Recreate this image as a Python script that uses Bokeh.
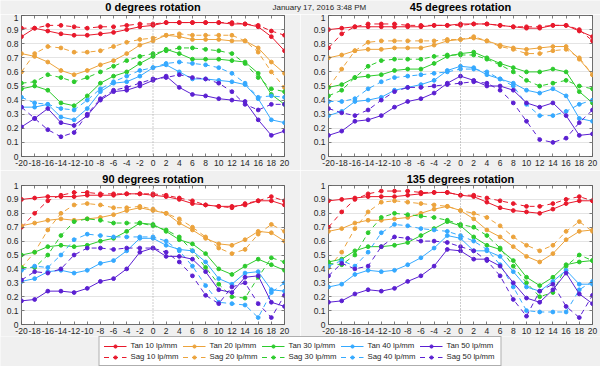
from bokeh.plotting import figure
from bokeh.models import (Range1d, FixedTicker, Span, Legend, LegendItem, Label, LinearAxis,
                          CustomLabelingPolicy)
from bokeh.layouts import column, row
from bokeh.embed import file_html
from bokeh.resources import INLINE

field = [-20, -18, -16, -14, -12, -10, -8, -6, -4, -2, 0, 2, 4, 6, 8, 10, 12, 14, 16, 18, 20]
x_ticks = field
x_tick_labels = ["-20", "-18", "-16", "-14", "-12", "-10", "-8", "-6", "-4", "-2", "0",
                 "2", "4", "6", "8", "10", "12", "14", "16", "18", "20"]
y_ticks = [0, 0.1, 0.2, 0.3, 0.4, 0.5, 0.6, 0.7, 0.8, 0.9, 1.0]
y_tick_labels = ["0", "0.1", "0.2", "0.3", "0.4", "0.5", "0.6", "0.7", "0.8", "0.9", "1"]
freqs = ["10", "20", "30", "40", "50"]
colors = ["#e8192c", "#eca33c", "#2dcb2d", "#35a9ff", "#5b20d2"]
date_text = "January 17, 2016  3:48 PM"

# ---- 0 degrees rotation ----
tan10_r0 = [0.85, 0.91, 0.89, 0.87, 0.86, 0.86, 0.87, 0.88, 0.90, 0.92, 0.93, 0.95, 0.95, 0.95, 0.95, 0.95, 0.94, 0.94, 0.92, 0.85, 0.75]
sag10_r0 = [0.91, 0.91, 0.93, 0.93, 0.92, 0.91, 0.92, 0.92, 0.93, 0.94, 0.94, 0.95, 0.95, 0.95, 0.95, 0.95, 0.95, 0.94, 0.93, 0.89, 0.86]
tan20_r0 = [0.73, 0.71, 0.67, 0.61, 0.58, 0.61, 0.65, 0.68, 0.73, 0.79, 0.82, 0.86, 0.85, 0.83, 0.83, 0.83, 0.82, 0.82, 0.77, 0.67, 0.59]
sag20_r0 = [0.60, 0.73, 0.78, 0.77, 0.74, 0.74, 0.75, 0.78, 0.81, 0.83, 0.84, 0.86, 0.87, 0.86, 0.86, 0.86, 0.86, 0.82, 0.74, 0.60, 0.49]
tan30_r0 = [0.48, 0.50, 0.47, 0.38, 0.36, 0.43, 0.52, 0.57, 0.60, 0.66, 0.71, 0.76, 0.73, 0.69, 0.69, 0.69, 0.68, 0.67, 0.59, 0.44, 0.37]
sag30_r0 = [0.52, 0.53, 0.58, 0.56, 0.53, 0.56, 0.60, 0.64, 0.68, 0.71, 0.73, 0.75, 0.77, 0.77, 0.76, 0.75, 0.73, 0.66, 0.56, 0.48, 0.46]
tan40_r0 = [0.35, 0.35, 0.37, 0.28, 0.26, 0.34, 0.46, 0.52, 0.53, 0.57, 0.63, 0.65, 0.60, 0.55, 0.55, 0.54, 0.53, 0.51, 0.41, 0.26, 0.24]
sag40_r0 = [0.42, 0.38, 0.37, 0.34, 0.33, 0.40, 0.48, 0.53, 0.57, 0.61, 0.63, 0.66, 0.67, 0.66, 0.65, 0.63, 0.59, 0.52, 0.42, 0.43, 0.42]
tan50_r0 = [0.21, 0.27, 0.34, 0.24, 0.22, 0.29, 0.40, 0.46, 0.47, 0.50, 0.54, 0.57, 0.49, 0.44, 0.43, 0.41, 0.40, 0.39, 0.26, 0.15, 0.18]
sag50_r0 = [0.35, 0.27, 0.19, 0.14, 0.17, 0.30, 0.41, 0.47, 0.49, 0.52, 0.55, 0.56, 0.58, 0.56, 0.55, 0.52, 0.46, 0.37, 0.33, 0.37, 0.37]

# ---- 45 degrees rotation ----
tan10_r45 = [0.90, 0.91, 0.92, 0.92, 0.92, 0.92, 0.92, 0.92, 0.93, 0.93, 0.94, 0.94, 0.94, 0.93, 0.92, 0.91, 0.91, 0.93, 0.93, 0.89, 0.85]
sag10_r45 = [0.77, 0.87, 0.92, 0.94, 0.94, 0.94, 0.93, 0.93, 0.93, 0.93, 0.93, 0.94, 0.94, 0.93, 0.92, 0.92, 0.92, 0.93, 0.93, 0.90, 0.82]
tan20_r45 = [0.70, 0.72, 0.75, 0.76, 0.76, 0.77, 0.77, 0.77, 0.79, 0.82, 0.83, 0.84, 0.82, 0.79, 0.77, 0.76, 0.77, 0.78, 0.78, 0.69, 0.58]
sag20_r45 = [0.49, 0.62, 0.75, 0.81, 0.82, 0.82, 0.82, 0.82, 0.82, 0.83, 0.83, 0.85, 0.82, 0.78, 0.76, 0.73, 0.73, 0.75, 0.76, 0.70, 0.58]
tan30_r45 = [0.49, 0.51, 0.56, 0.57, 0.58, 0.61, 0.62, 0.62, 0.66, 0.71, 0.73, 0.74, 0.70, 0.66, 0.63, 0.60, 0.60, 0.62, 0.60, 0.46, 0.38]
sag30_r45 = [0.43, 0.47, 0.56, 0.64, 0.68, 0.69, 0.69, 0.69, 0.71, 0.72, 0.72, 0.72, 0.69, 0.65, 0.60, 0.54, 0.50, 0.52, 0.54, 0.50, 0.48]
tan40_r45 = [0.29, 0.32, 0.39, 0.40, 0.42, 0.47, 0.49, 0.51, 0.54, 0.61, 0.64, 0.63, 0.58, 0.55, 0.52, 0.47, 0.45, 0.48, 0.43, 0.27, 0.25]
sag40_r45 = [0.39, 0.39, 0.41, 0.48, 0.53, 0.56, 0.57, 0.58, 0.59, 0.60, 0.62, 0.62, 0.60, 0.55, 0.50, 0.37, 0.29, 0.29, 0.32, 0.37, 0.40]
tan50_r45 = [0.15, 0.18, 0.25, 0.26, 0.29, 0.35, 0.39, 0.41, 0.45, 0.52, 0.57, 0.54, 0.50, 0.50, 0.47, 0.38, 0.35, 0.38, 0.29, 0.15, 0.16]
sag50_r45 = [0.34, 0.31, 0.29, 0.33, 0.40, 0.46, 0.49, 0.49, 0.50, 0.51, 0.52, 0.53, 0.52, 0.47, 0.38, 0.25, 0.12, 0.10, 0.13, 0.24, 0.33]

# ---- 90 degrees rotation ----
tan10_r90 = [0.90, 0.91, 0.92, 0.92, 0.92, 0.93, 0.93, 0.93, 0.94, 0.94, 0.93, 0.92, 0.90, 0.87, 0.86, 0.85, 0.85, 0.86, 0.89, 0.89, 0.86]
sag10_r90 = [0.70, 0.80, 0.89, 0.93, 0.95, 0.95, 0.94, 0.94, 0.94, 0.94, 0.94, 0.93, 0.91, 0.89, 0.86, 0.85, 0.84, 0.87, 0.89, 0.92, 0.89]
tan20_r90 = [0.71, 0.73, 0.75, 0.76, 0.75, 0.76, 0.77, 0.79, 0.82, 0.84, 0.82, 0.80, 0.73, 0.68, 0.62, 0.58, 0.57, 0.61, 0.67, 0.66, 0.60]
sag20_r90 = [0.41, 0.52, 0.68, 0.80, 0.86, 0.87, 0.86, 0.84, 0.84, 0.85, 0.83, 0.80, 0.76, 0.70, 0.63, 0.55, 0.51, 0.54, 0.65, 0.72, 0.67]
tan30_r90 = [0.50, 0.52, 0.56, 0.57, 0.56, 0.57, 0.60, 0.62, 0.67, 0.73, 0.72, 0.67, 0.61, 0.58, 0.51, 0.40, 0.36, 0.42, 0.47, 0.43, 0.39]
sag30_r90 = [0.41, 0.41, 0.50, 0.64, 0.74, 0.76, 0.75, 0.73, 0.73, 0.73, 0.71, 0.68, 0.63, 0.53, 0.41, 0.29, 0.20, 0.19, 0.34, 0.48, 0.45]
tan40_r90 = [0.31, 0.33, 0.38, 0.39, 0.37, 0.39, 0.44, 0.46, 0.53, 0.62, 0.62, 0.57, 0.54, 0.53, 0.45, 0.33, 0.29, 0.37, 0.38, 0.25, 0.24]
sag40_r90 = [0.39, 0.42, 0.41, 0.50, 0.61, 0.65, 0.64, 0.63, 0.63, 0.63, 0.63, 0.60, 0.53, 0.42, 0.28, 0.16, 0.15, 0.14, 0.05, 0.23, 0.30]
tan50_r90 = [0.17, 0.18, 0.24, 0.24, 0.23, 0.26, 0.31, 0.33, 0.40, 0.52, 0.55, 0.49, 0.49, 0.47, 0.38, 0.25, 0.23, 0.34, 0.35, 0.16, 0.13]
sag50_r90 = [0.32, 0.38, 0.37, 0.40, 0.50, 0.55, 0.55, 0.54, 0.55, 0.55, 0.55, 0.52, 0.45, 0.35, 0.21, 0.15, 0.27, 0.30, 0.15, 0.05, 0.21]

# ---- 135 degrees rotation ----
tan10_r135 = [0.89, 0.90, 0.91, 0.92, 0.92, 0.92, 0.93, 0.94, 0.95, 0.95, 0.93, 0.92, 0.88, 0.84, 0.82, 0.81, 0.80, 0.83, 0.87, 0.89, 0.89]
sag10_r135 = [0.70, 0.81, 0.90, 0.94, 0.96, 0.96, 0.96, 0.95, 0.95, 0.95, 0.93, 0.93, 0.91, 0.89, 0.87, 0.85, 0.85, 0.87, 0.90, 0.92, 0.89]
tan20_r135 = [0.67, 0.69, 0.73, 0.75, 0.75, 0.76, 0.77, 0.80, 0.83, 0.85, 0.82, 0.76, 0.68, 0.63, 0.56, 0.49, 0.45, 0.51, 0.61, 0.67, 0.68]
sag20_r135 = [0.41, 0.52, 0.69, 0.81, 0.88, 0.89, 0.88, 0.87, 0.86, 0.85, 0.82, 0.80, 0.77, 0.71, 0.63, 0.57, 0.53, 0.57, 0.67, 0.74, 0.67]
tan30_r135 = [0.45, 0.47, 0.53, 0.56, 0.56, 0.57, 0.59, 0.64, 0.69, 0.74, 0.71, 0.63, 0.57, 0.54, 0.46, 0.34, 0.28, 0.34, 0.43, 0.45, 0.46]
sag30_r135 = [0.44, 0.43, 0.50, 0.66, 0.77, 0.80, 0.79, 0.78, 0.77, 0.75, 0.72, 0.70, 0.64, 0.55, 0.42, 0.30, 0.20, 0.23, 0.42, 0.50, 0.46]
tan40_r135 = [0.27, 0.29, 0.36, 0.39, 0.38, 0.39, 0.43, 0.48, 0.55, 0.64, 0.62, 0.53, 0.53, 0.49, 0.38, 0.27, 0.24, 0.31, 0.39, 0.29, 0.29]
sag40_r135 = [0.42, 0.46, 0.42, 0.52, 0.66, 0.72, 0.71, 0.69, 0.68, 0.67, 0.64, 0.60, 0.54, 0.43, 0.27, 0.10, 0.09, 0.09, 0.09, 0.25, 0.31]
tan50_r135 = [0.16, 0.17, 0.22, 0.25, 0.24, 0.26, 0.31, 0.35, 0.42, 0.54, 0.53, 0.47, 0.47, 0.42, 0.30, 0.19, 0.16, 0.25, 0.37, 0.22, 0.15]
sag50_r135 = [0.35, 0.44, 0.40, 0.42, 0.56, 0.63, 0.62, 0.60, 0.60, 0.59, 0.56, 0.53, 0.46, 0.35, 0.18, 0.06, 0.24, 0.29, 0.13, 0.05, 0.21]

panels = [
    ("0 degrees rotation", [tan10_r0, tan20_r0, tan30_r0, tan40_r0, tan50_r0],
     [sag10_r0, sag20_r0, sag30_r0, sag40_r0, sag50_r0]),
    ("45 degrees rotation", [tan10_r45, tan20_r45, tan30_r45, tan40_r45, tan50_r45],
     [sag10_r45, sag20_r45, sag30_r45, sag40_r45, sag50_r45]),
    ("90 degrees rotation", [tan10_r90, tan20_r90, tan30_r90, tan40_r90, tan50_r90],
     [sag10_r90, sag20_r90, sag30_r90, sag40_r90, sag50_r90]),
    ("135 degrees rotation", [tan10_r135, tan20_r135, tan30_r135, tan40_r135, tan50_r135],
     [sag10_r135, sag20_r135, sag30_r135, sag40_r135, sag50_r135]),
]

FONT = "Liberation Sans"
AX = "#262626"
FRAME = "#5e5e5e"
BG = "#f0f0f0"
DASH = "5 4"
MSIZE = 3.8


def style_axis(ax, ticks, labels=None):
    ax.ticker = FixedTicker(ticks=ticks)
    ax.axis_line_color = None
    ax.major_tick_in = 3
    ax.major_tick_out = 0
    ax.minor_tick_line_color = None
    ax.major_tick_line_color = FRAME
    ax.major_tick_line_width = 0.8
    ax.major_label_text_font = FONT
    ax.major_label_text_color = AX
    if labels is not None:
        ax.major_label_overrides = dict(zip(ticks, labels))
        ax.major_label_text_font_size = "8.5px"
        ax.major_label_standoff = 3
    else:
        # mirrored axis: tick marks only, every label is filtered out
        ax.major_label_text_font_size = "0px"
        ax.major_label_standoff = 0
        ax.major_label_policy = CustomLabelingPolicy(
            code="for (const i of indices) indices.unset(i)")


def make_panel(title, tans, sags, width, height, bl, br, bt, bb):
    p = figure(width=width, height=height, x_range=Range1d(-20, 20), y_range=Range1d(0, 1),
               output_backend="svg", toolbar_location=None,
               min_border_left=bl, min_border_right=br, min_border_top=bt, min_border_bottom=bb)
    if title is not None:
        p.title.text = title
        p.title.align = "center"
        p.title.text_font = FONT
        p.title.text_font_size = "11px"
        p.title.text_font_style = "bold"
        p.title.text_color = "#000000"
        p.title.standoff = 1
    p.border_fill_color = BG
    p.background_fill_color = "white"
    p.outline_line_color = FRAME
    p.outline_line_width = 0.9
    style_axis(p.xaxis[0], x_ticks, x_tick_labels)
    style_axis(p.yaxis[0], y_ticks, y_tick_labels)
    top_axis = LinearAxis()
    style_axis(top_axis, x_ticks)
    right_axis = LinearAxis()
    style_axis(right_axis, y_ticks)
    p.add_layout(top_axis, "above")
    p.add_layout(right_axis, "right")
    p.xgrid.visible = False
    p.ygrid.ticker = FixedTicker(ticks=y_ticks)
    p.ygrid.grid_line_color = "#e4e4e4"
    p.ygrid.grid_line_width = 1
    p.add_layout(Span(location=0, dimension="height", line_color="#9a9a9a",
                      line_dash="1 2", line_width=1))
    for c, t, s in zip(colors, tans, sags):
        p.line(field, t, line_color=c, line_width=1)
        p.scatter(field, t, size=MSIZE, color=c)
        p.line(field, s, line_color=c, line_width=1, line_dash=DASH)
        p.scatter(field, s, size=MSIZE, color=c)
    return p


def blank(width, height):
    b = figure(width=width, height=height, output_backend="svg", toolbar_location=None,
               x_range=Range1d(0, 1), y_range=Range1d(0, 1),
               x_axis_location=None, y_axis_location=None,
               min_border_left=0, min_border_right=0, min_border_top=0, min_border_bottom=0)
    b.border_fill_color = BG
    b.background_fill_color = BG
    b.outline_line_color = None
    b.xgrid.visible = False
    b.ygrid.visible = False
    return b


# top strip: titles of the upper row and the date stamp
strip = blank(600, 14)
strip.add_layout(Label(x=152.5, y=2, x_units="screen", y_units="screen", text=panels[0][0],
                       text_align="center", text_baseline="bottom", text_font=FONT,
                       text_font_size="11px", text_font_style="bold", text_color="#000000"))
strip.add_layout(Label(x=460, y=2, x_units="screen", y_units="screen", text=panels[1][0],
                       text_align="center", text_baseline="bottom", text_font=FONT,
                       text_font_size="11px", text_font_style="bold", text_color="#000000"))
strip.add_layout(Label(x=368, y=3, x_units="screen", y_units="screen", text=date_text,
                       text_align="right", text_baseline="bottom", text_font=FONT,
                       text_font_size="8px", text_color=AX))

f1 = make_panel(None, panels[0][1], panels[0][2], 300, 156, 21, 16, 1, 14)
f2 = make_panel(None, panels[1][1], panels[1][2], 300, 156, 28, 8, 1, 14)
f3 = make_panel(panels[2][0], panels[2][1], panels[2][2], 300, 166, 21, 16, 13, 12)
f4 = make_panel(panels[3][0], panels[3][1], panels[3][2], 300, 166, 28, 8, 13, 12)

# legend strip
lg = blank(600, 30)
nan = float("nan")
tan_items = []
sag_items = []
for c, fq in zip(colors, freqs):
    l1 = lg.line([nan], [nan], line_color=c, line_width=1)
    m1 = lg.scatter([nan], [nan], size=MSIZE, color=c)
    l2 = lg.line([nan], [nan], line_color=c, line_width=1, line_dash=DASH)
    m2 = lg.scatter([nan], [nan], size=MSIZE, color=c)
    tan_items.append(LegendItem(label="Tan " + fq + " lp/mm", renderers=[l1, m1]))
    sag_items.append(LegendItem(label="Sag " + fq + " lp/mm", renderers=[l2, m2]))
legend = Legend(items=tan_items + sag_items, orientation="horizontal", nrows=2,
                location="center", glyph_width=23, glyph_height=8, label_height=8,
                label_width=50, label_standoff=4, spacing=2, padding=4, margin=0,
                label_text_font=FONT, label_text_font_size="7.8px", label_text_color=AX,
                border_line_color=FRAME, border_line_width=0.8, background_fill_color="white")
lg.add_layout(legend, "center")

layout = column(strip, row(f1, f2), row(f3, f4), lg)

open("out.html", "w").write(file_html(layout, INLINE))
